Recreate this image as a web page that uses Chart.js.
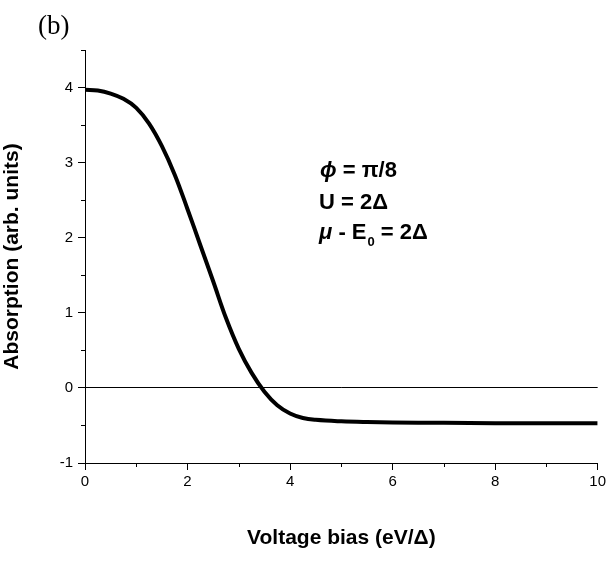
<!DOCTYPE html>
<html>
<head>
<meta charset="utf-8">
<script src="https://cdn.jsdelivr.net/npm/chart.js@4.4.1/dist/chart.umd.min.js"></script>
<style>
  html, body { margin: 0; padding: 0; background: #fff; }
  #wrap { width: 609px; height: 561px; position: relative; }
</style>
</head>
<body>
<div id="wrap"><canvas id="absChart"></canvas></div>
<script>
// values
const voltage = [0, 0.25, 0.5, 0.75, 1, 1.25, 1.5, 1.75, 2, 2.25, 2.5, 2.75, 3, 3.25, 3.5, 3.75, 4, 4.25, 4.5, 5, 5.5, 6, 7, 8, 9, 10];
const absorption = [3.97, 3.96, 3.92, 3.85, 3.73, 3.52, 3.22, 2.84, 2.38, 1.9, 1.42, 0.93, 0.52, 0.2, -0.05, -0.23, -0.34, -0.4, -0.425, -0.445, -0.455, -0.46, -0.465, -0.47, -0.47, -0.47];
const xMajorTicks = [0, 2, 4, 6, 8, 10];
const xMinorTicks = [1, 3, 5, 7, 9];
const yMajorTicks = [-1, 0, 1, 2, 3, 4];
const yMinorTicks = [-0.5, 0.5, 1.5, 2.5, 3.5, 4.5];

const tickFont = { family: "Arial, 'Liberation Sans', sans-serif", size: 15 };
const titleFont = { family: "Arial, 'Liberation Sans', sans-serif", size: 21, weight: "bold" };

// short minor ticks + panel label + annotation text
const extras = {
  id: "extras",
  afterDraw(chart) {
    const ctx = chart.ctx;
    const xs = chart.scales.x;
    const ys = chart.scales.y;
    ctx.save();
    ctx.strokeStyle = "#000";
    ctx.lineWidth = 1;
    ctx.beginPath();
    xMinorTicks.forEach((v) => {
      const px = Math.round(xs.getPixelForValue(v)) + 0.5;
      ctx.moveTo(px, ys.bottom);
      ctx.lineTo(px, ys.bottom + 4);
    });
    yMinorTicks.forEach((v) => {
      const py = Math.round(ys.getPixelForValue(v)) + 0.5;
      ctx.moveTo(xs.left, py);
      ctx.lineTo(xs.left - 4, py);
    });
    ctx.stroke();

    ctx.fillStyle = "#000";
    ctx.textBaseline = "alphabetic";
    ctx.font = "27px 'Liberation Serif', 'Times New Roman', serif";
    ctx.fillText("(b)", 38, 34);

    const bold = "bold 22px Arial, 'Liberation Sans', sans-serif";
    const italic = "italic bold 22px Arial, 'Liberation Sans', sans-serif";
    let x = 320;
    ctx.font = italic;
    ctx.fillText("\u03D5", x, 177);
    x += ctx.measureText("\u03D5").width;
    ctx.font = bold;
    ctx.fillText(" = \u03C0/8", x, 177);

    ctx.fillText("U = 2\u0394", 319, 209);

    x = 319;
    ctx.font = italic;
    ctx.fillText("\u03BC", x, 239);
    x += ctx.measureText("\u03BC").width;
    ctx.font = bold;
    ctx.fillText(" - E", x, 239);
    x += ctx.measureText(" - E").width + 1;
    ctx.font = "bold 13px Arial, 'Liberation Sans', sans-serif";
    ctx.fillText("0", x, 246);
    x += ctx.measureText("0").width;
    ctx.font = bold;
    ctx.fillText(" = 2\u0394", x, 239);
    ctx.restore();
  },
};

const config = {
  type: "line",
  data: {
    datasets: [
      {
        label: "Absorption",
        data: voltage.map((v, i) => ({ x: v, y: absorption[i] })),
        borderColor: "#000",
        borderWidth: 4,
        pointRadius: 0,
        fill: false,
        tension: 0.4,
      },
    ],
  },
  options: {
    responsive: true,
    maintainAspectRatio: false,
    animation: false,
    layout: { padding: { top: 50, right: 11, left: 0, bottom: 0 } },
    plugins: {
      legend: { display: false },
      tooltip: { enabled: false },
    },
    scales: {
      x: {
        type: "linear",
        min: 0,
        max: 10,
        afterBuildTicks: (scale) => {
          scale.ticks = xMajorTicks.map((v) => ({ value: v }));
        },
        afterFit: (scale) => {
          scale.height = 98;
        },
        ticks: { color: "#000", font: tickFont, padding: 3, maxRotation: 0 },
        grid: { drawOnChartArea: false, tickLength: 7, tickColor: "#000" },
        border: { display: true, color: "#000", width: 1 },
        title: {
          display: true,
          text: "Voltage bias (eV/\u0394)",
          color: "#000",
          font: titleFont,
          padding: { top: 0, bottom: 10 },
        },
      },
      y: {
        type: "linear",
        min: -1,
        max: 4.5,
        afterBuildTicks: (scale) => {
          scale.ticks = yMajorTicks.map((v) => ({ value: v }));
        },
        afterFit: (scale) => {
          scale.width = 85;
        },
        ticks: { color: "#000", font: tickFont, padding: 5 },
        grid: {
          drawOnChartArea: true,
          tickLength: 7,
          tickColor: "#000",
          color: (c) => (c.tick && c.tick.value === 0 ? "#000" : "rgba(0,0,0,0)"),
        },
        border: { display: true, color: "#000", width: 1 },
        title: {
          display: true,
          text: "Absorption (arb. units)",
          color: "#000",
          font: titleFont,
          padding: { top: 0, bottom: 0 },
        },
      },
    },
  },
  plugins: [extras],
};

new Chart(document.getElementById("absChart").getContext("2d"), config);
</script>
</body>
</html>
